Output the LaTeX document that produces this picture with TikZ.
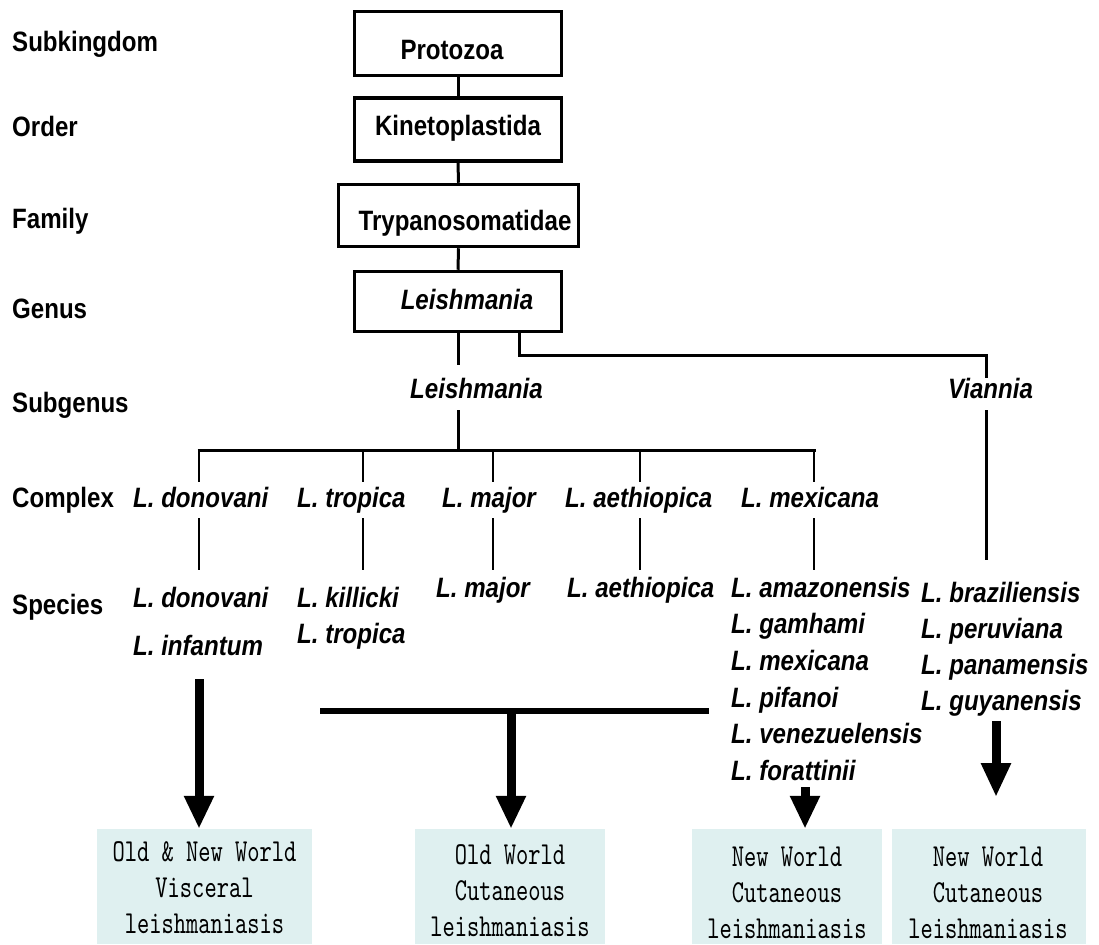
\documentclass[tikz,border=0pt]{standalone}
\usepackage{fontspec}
\setmainfont{Liberation Sans}[FakeStretch=0.86]
\newfontfamily\boxfont{lmmono10-regular.otf}[FakeStretch=0.73]
\usetikzlibrary{arrows.meta}
\definecolor{boxfill}{RGB}{223,240,240}
\begin{document}
\begin{tikzpicture}[x=1pt,y=-1pt,
  lab/.style={font=\fontsize{28}{34}\selectfont\bfseries, anchor=base west, inner sep=0pt},
  sp/.style={font=\fontsize{28}{34}\selectfont\bfseries\itshape, anchor=base west, inner sep=0pt},
  tbox/.style={draw, line width=3.5pt, inner sep=0pt},
  conn/.style={line width=3pt},
  thinl/.style={line width=2pt},
  dis/.style={fill=boxfill, inner sep=0pt, draw=none},
  distext/.style={font=\boxfont\fontsize{32}{36}\selectfont, align=center, inner sep=0pt},
  bigarrow/.style={line width=9pt, -{Triangle[width=28pt,length=33pt]}},
]
\useasboundingbox (0,0) rectangle (1099,944);

% rank labels
\node[lab] (rk1) at (12,52) {Subkingdom};
\node[lab] (rk2) at (12,137) {Order};
\node[lab] (rk3) at (12,228) {Family};
\node[lab] (rk4) at (12,318) {Genus};
\node[lab] (rk5) at (12,412) {Subgenus};
\node[lab] (rk6) at (12,507) {Complex};
\node[lab] (rk7) at (12,614) {Species};

% taxonomy boxes
\node[tbox, minimum width=207pt, minimum height=64pt] (protozoa) at (458,43.5) {};
\node[tbox, minimum width=207pt, minimum height=63pt] (kineto) at (458,129.5) {};
\node[tbox, minimum width=240pt, minimum height=62pt] (trypano) at (458.5,215.5) {};
\node[tbox, minimum width=207pt, minimum height=60pt] (leish) at (458,301.5) {};
\node[lab, anchor=base] (tproto) at (452,60) {Protozoa};
\node[lab, anchor=base] (tkineto) at (458,136) {Kinetoplastida};
\node[lab, anchor=base] (ttrypano) at (465,230) {Trypanosomatidae};
\node[sp, anchor=base] (tleish) at (467,309) {Leishmania};

\draw[conn] (protozoa.south) -- (kineto.north);
\draw[conn] (kineto.south) -- (trypano.north);
\draw[conn] (trypano.south) -- (leish.north);

% subgenus
\node[sp] (sgL) at (410,398) {Leishmania};
\node[sp] (sgV) at (948,398) {Viannia};
\coordinate (lA) at (458,365);
\coordinate (lB) at (458,410);
\coordinate (lC) at (458,450);
\draw[conn] (leish.south) -- (lA);
\coordinate (vS) at (519,333);
\coordinate (vM) at (986,355);
\coordinate (vA) at (986,378);
\coordinate (vB) at (986,410);
\coordinate (vC) at (986,560);
\draw[conn] (vS) |- (vM) -- (vA);
\draw[conn] (vB) -- (vC);

% complex bar
\coordinate (cL) at (199,450);
\coordinate (cR) at (814,450);
\draw[conn] (lB) -- (lC);
\draw[conn] ([xshift=-1.5pt]cL) -- ([xshift=1.5pt]cR);
\foreach \x/\n in {199/a,363/b,493/c,640/d,814/e}{
  \coordinate (ct\n) at (\x,450);
  \coordinate (cb\n) at (\x,482);
  \coordinate (st\n) at (\x,518);
  \coordinate (sb\n) at (\x,570);
  \draw[thinl] (ct\n) -- (cb\n);
  \draw[thinl] (st\n) -- (sb\n);
}

% complex names
\node[sp] (cx1) at (133,507) {L. donovani};
\node[sp] (cx2) at (297,507) {L. tropica};
\node[sp] (cx3) at (442,507) {L. major};
\node[sp] (cx4) at (565,507) {L. aethiopica};
\node[sp] (cx5) at (741,507) {L. mexicana};

% species
\node[sp] (s11) at (133,607) {L. donovani};
\node[sp] (s12) at (133,655) {L. infantum};
\node[sp] (s21) at (297,607) {L. killicki};
\node[sp] (s22) at (297,643) {L. tropica};
\node[sp] (s31) at (436,597) {L. major};
\node[sp] (s41) at (567,597) {L. aethiopica};
\node[sp] (s51) at (731,597) {L. amazonensis};
\node[sp] (s52) at (731,633) {L. gamhami};
\node[sp] (s53) at (731,670) {L. mexicana};
\node[sp] (s54) at (731,707) {L. pifanoi};
\node[sp] (s55) at (731,743) {L. venezuelensis};
\node[sp] (s56) at (731,780) {L. forattinii};
\node[sp] (s61) at (921,602) {L. braziliensis};
\node[sp] (s62) at (921,638) {L. peruviana};
\node[sp] (s63) at (921,674) {L. panamensis};
\node[sp] (s64) at (921,710) {L. guyanensis};

% disease boxes
\node[dis, minimum width=215pt, minimum height=115pt] (d1) at (204.5,886.5) {};
\node[dis, minimum width=190pt, minimum height=115pt] (d2) at (510,886.5) {};
\node[dis, minimum width=190pt, minimum height=115pt] (d3) at (787,886.5) {};
\node[dis, minimum width=194pt, minimum height=115pt] (d4) at (989,886.5) {};
\node[distext] (t1) at (204.5,888) {Old \& New World\\Visceral\\leishmaniasis};
\node[distext] (t2) at (510,891) {Old World\\Cutaneous\\leishmaniasis};
\node[distext] (t3) at (787,893) {New World\\Cutaneous\\leishmaniasis};
\node[distext] (t4) at (988,893) {New World\\Cutaneous\\leishmaniasis};

% arrows
\coordinate (a1) at (199,679);
\draw[bigarrow] (a1) -- (d1.north -| a1);
\coordinate (bL) at (320,711);
\coordinate (bR) at (709,711);
\draw[line width=6pt] (bL) -- (bR);
\coordinate (a2) at (511,711);
\draw[bigarrow] (a2) -- (d2.north -| a2);
\coordinate (a3) at (805,787);
\draw[bigarrow] (a3) -- (d3.north -| a3);
\coordinate (a4) at (996,721);
\coordinate (a4e) at (996,797);
\draw[bigarrow, -{Triangle[width=28pt,length=34pt]}] (a4) -- (a4e);
\end{tikzpicture}
\end{document}
